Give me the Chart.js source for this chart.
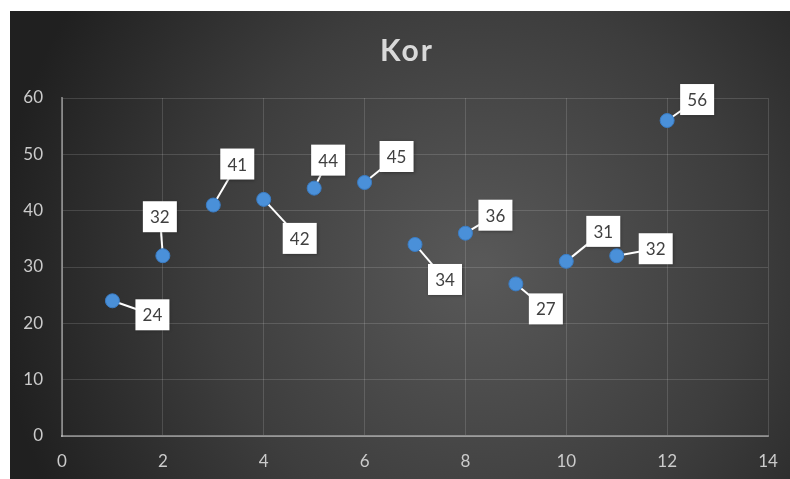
<!DOCTYPE html>
<html>
<head>
<meta charset="utf-8">
<script src="https://cdn.jsdelivr.net/npm/chart.js@4.4.1/dist/chart.umd.min.js"></script>
<style>
  html, body { margin: 0; padding: 0; background: #fff; }
  #wrap { position: absolute; left: 10px; top: 11px; width: 780px; height: 468px; }
</style>
</head>
<body>
<div id="wrap"><canvas id="chart"></canvas></div>
<script>
// ---- data ----
const titleText = 'Kor';
const xValues = [1, 2, 3, 4, 5, 6, 7, 8, 9, 10, 11, 12];
const yValues = [24, 32, 41, 42, 44, 45, 34, 36, 27, 31, 32, 56];
const xTicks = [0, 2, 4, 6, 8, 10, 12, 14];
const yTicks = [0, 10, 20, 30, 40, 50, 60];

// label placement (pixel offset of each callout box from its point)
const labelOffsets = [
  [40, 14], [-3, -39], [24, -41], [36, 39], [14, -28], [32, -26],
  [30, 35], [30, -18], [30, 25], [37, -30], [39, -7], [30, -21]
];

const FONT = 'Lato, "Open Sans", sans-serif';

// dark radial background
const bgPlugin = {
  id: 'bg',
  beforeDraw(chart) {
    const { ctx, width, height } = chart;
    const g = ctx.createRadialGradient(width * 0.6, height * 0.55, 10, width * 0.6, height * 0.55, width * 0.62);
    g.addColorStop(0, '#585858');
    g.addColorStop(0.55, '#3d3d3d');
    g.addColorStop(1, '#202020');
    ctx.save();
    ctx.fillStyle = g;
    ctx.fillRect(0, 0, width, height);
    ctx.restore();
  }
};

// spaced-out title, drawn by hand so letter spacing can be set
const titlePlugin = {
  id: 'spacedTitle',
  afterDraw(chart) {
    const { ctx } = chart;
    ctx.save();
    ctx.font = 'bold 30px ' + FONT;
    ctx.letterSpacing = '2px';
    ctx.fillStyle = '#d9d9d9';
    ctx.textAlign = 'center';
    ctx.textBaseline = 'middle';
    ctx.fillText(titleText, 397, 40);
    ctx.restore();
  }
};

// callout labels with leader lines
const calloutPlugin = {
  id: 'callouts',
  beforeDatasetsDraw(chart) {
    const { ctx } = chart;
    const pts = chart.getDatasetMeta(0).data;
    ctx.save();
    ctx.strokeStyle = '#ffffff';
    ctx.lineWidth = 2;
    pts.forEach((p, i) => {
      const [dx, dy] = labelOffsets[i];
      ctx.beginPath();
      ctx.moveTo(p.x, p.y);
      ctx.lineTo(p.x + dx, p.y + dy);
      ctx.stroke();
    });
    ctx.restore();
  },
  afterDatasetsDraw(chart) {
    const { ctx } = chart;
    const pts = chart.getDatasetMeta(0).data;
    ctx.save();
    ctx.font = '17px ' + FONT;
    ctx.textAlign = 'center';
    ctx.textBaseline = 'middle';
    pts.forEach((p, i) => {
      const [dx, dy] = labelOffsets[i];
      const cx = p.x + dx, cy = p.y + dy;
      const w = 34, h = 31;
      ctx.shadowColor = 'rgba(0,0,0,0.35)';
      ctx.shadowBlur = 3;
      ctx.shadowOffsetX = 1;
      ctx.shadowOffsetY = 1;
      ctx.fillStyle = '#ffffff';
      ctx.fillRect(cx - w / 2, cy - h / 2, w, h);
      ctx.shadowColor = 'transparent';
      ctx.fillStyle = '#404040';
      ctx.fillText(String(yValues[i]), cx, cy + 1);
    });
    ctx.restore();
  }
};

const points = xValues.map((x, i) => ({ x: x, y: yValues[i] }));

new Chart(document.getElementById('chart'), {
  type: 'scatter',
  data: {
    datasets: [{
      label: titleText,
      data: points,
      backgroundColor: '#4a90d9',
      borderColor: '#3a7cc4',
      borderWidth: 1,
      pointRadius: 7,
      pointHoverRadius: 7
    }]
  },
  options: {
    responsive: true,
    maintainAspectRatio: false,
    animation: false,
    layout: { padding: { left: 12, right: 22, top: 87, bottom: 0 } },
    plugins: {
      legend: { display: false },
      tooltip: { enabled: false },
      title: { display: false }
    },
    scales: {
      x: {
        type: 'linear',
        min: 0,
        max: 14,
        afterBuildTicks(scale) { scale.ticks = xTicks.map(v => ({ value: v })); },
        afterFit(scale) {
          scale.height = 43;
          scale.paddingLeft = 0;
          scale.paddingRight = 0;
        },
        grid: { color: 'rgba(255,255,255,0.14)', drawTicks: false },
        border: { color: 'rgba(255,255,255,0.38)', width: 2 },
        ticks: { color: '#cbcbcb', padding: 15, font: { family: FONT, size: 17 } }
      },
      y: {
        type: 'linear',
        min: 0,
        max: 60,
        afterBuildTicks(scale) { scale.ticks = yTicks.map(v => ({ value: v })); },
        afterFit(scale) {
          scale.width = 40;
          scale.paddingTop = 0;
          scale.paddingBottom = 0;
        },
        grid: { color: 'rgba(255,255,255,0.14)', drawTicks: false },
        border: { color: 'rgba(255,255,255,0.38)', width: 2 },
        ticks: { color: '#cbcbcb', padding: 19, font: { family: FONT, size: 17 } }
      }
    }
  },
  plugins: [bgPlugin, calloutPlugin, titlePlugin]
});
</script>
</body>
</html>
